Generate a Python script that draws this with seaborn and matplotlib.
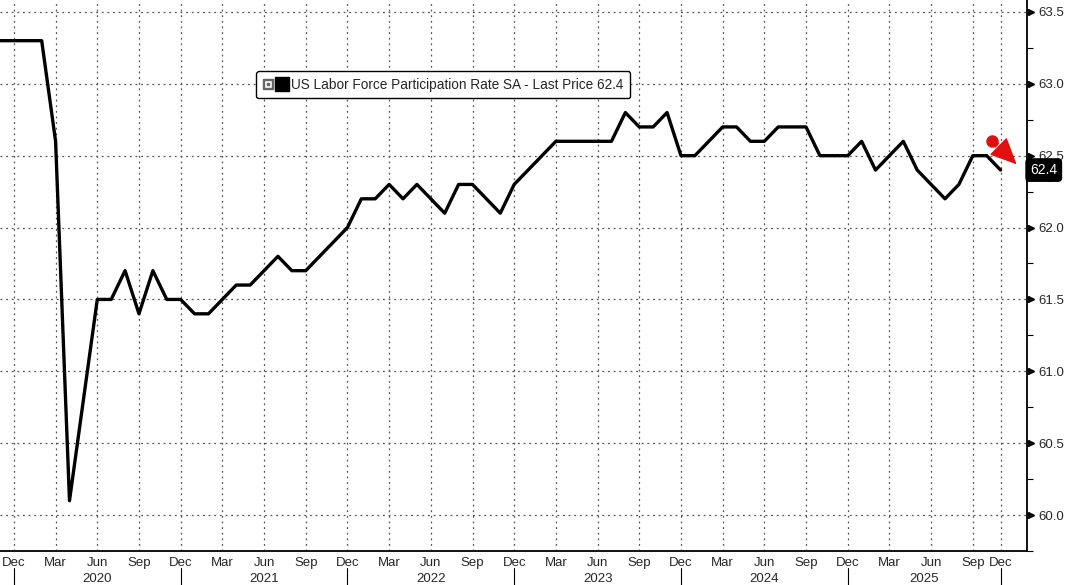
import numpy as np
import pandas as pd
import matplotlib
matplotlib.use('Agg')
import matplotlib.pyplot as plt
import matplotlib.transforms as mtransforms
import seaborn as sns
from matplotlib.lines import Line2D
from matplotlib.legend_handler import HandlerTuple

# monthly observations, Oct 2025 was never published (shutdown), so it is skipped
months = pd.period_range('2019-11', '2025-12', freq='M')
months = months[months != pd.Period('2025-10', 'M')]

rate_2019 = [63.3, 63.3]
rate_2020 = [63.3, 63.3, 62.6, 60.1, 60.8, 61.5, 61.5, 61.7, 61.4, 61.7, 61.5, 61.5]
rate_2021 = [61.4, 61.4, 61.5, 61.6, 61.6, 61.7, 61.8, 61.7, 61.7, 61.8, 61.9, 62.0]
rate_2022 = [62.2, 62.2, 62.3, 62.2, 62.3, 62.2, 62.1, 62.3, 62.3, 62.2, 62.1, 62.3]
rate_2023 = [62.4, 62.5, 62.6, 62.6, 62.6, 62.6, 62.6, 62.8, 62.7, 62.7, 62.8, 62.5]
rate_2024 = [62.5, 62.6, 62.7, 62.7, 62.6, 62.6, 62.7, 62.7, 62.7, 62.5, 62.5, 62.5]
rate_2025 = [62.6, 62.4, 62.5, 62.6, 62.4, 62.3, 62.2, 62.3, 62.5, 62.5, 62.4]
rate = rate_2019 + rate_2020 + rate_2021 + rate_2022 + rate_2023 + rate_2024 + rate_2025

last_price = rate[-1]
series_name = 'US Labor Force Participation Rate SA'
y_ticks = [60.0, 60.5, 61.0, 61.5, 62.0, 62.5, 63.0, 63.5]

df = pd.DataFrame({'obs': np.arange(len(months)), 'rate': rate})

sns.set_style('white')
plt.rcParams['font.family'] = ['Liberation Sans', 'DejaVu Sans']

fig = plt.figure(figsize=(10.65, 5.85), dpi=100)
ax = fig.add_axes([0, 34 / 585, 1027 / 1065, 551 / 585])

sns.lineplot(data=df, x='obs', y='rate', color='black', lw=2.4, ax=ax, legend=False, zorder=5)

ax.set_xlim(0, 73.9)
ax.set_ylim(59.787, 63.583)
ax.set_xlabel('')
ax.set_ylabel('')

# spines
for s in ['top', 'left']:
    ax.spines[s].set_visible(False)
for s in ['bottom', 'right']:
    ax.spines[s].set_color('black')
    ax.spines[s].set_linewidth(1.3)

# x axis: quarterly major ticks, monthly minor ticks
major_idx = [i for i, m in enumerate(months) if m.month in (3, 6, 9, 12)]
ax.set_xticks(major_idx)
ax.set_xticklabels([months[i].strftime('%b') for i in major_idx], fontsize=9.5)
ax.set_xticks(np.arange(len(months)), minor=True)
ax.tick_params(axis='x', which='major', length=3, width=1, pad=1, color='black')
ax.tick_params(axis='x', which='minor', length=3, width=0.8, color='black')

# year row under the months
dec_idx = [i for i, m in enumerate(months) if m.month == 12]
xtrans = ax.get_xaxis_transform()
for i in dec_idx:
    ax.plot([i, i], [-0.031, -0.065], color='black', lw=0.8, transform=xtrans, clip_on=False)
for a, b in zip(dec_idx[:-1], dec_idx[1:]):
    ax.text((a + b) / 2, -0.0505, str(months[b].year), transform=xtrans, ha='center', va='center',
            fontsize=9.5)

# y axis on the right
ax.yaxis.tick_right()
ax.set_yticks(y_ticks)
ax.set_yticklabels([f'{v:.1f}' for v in y_ticks], fontsize=9.5)
ax.set_yticks(np.arange(59.75, 63.6, 0.25), minor=True)
ax.tick_params(axis='y', which='major', length=0, pad=8)
ax.tick_params(axis='y', which='minor', length=4, width=0.8, color='black')
tri = mtransforms.offset_copy(ax.get_yaxis_transform(), fig=fig, x=3, units='points')
for v in y_ticks:
    ax.plot(1.0, v, marker='>', color='black', ms=5, transform=tri, clip_on=False)

# dotted grid
ax.grid(True, which='major', axis='both', color='#555555', linestyle=(0, (1.5, 3)), lw=0.9)

# last price tag (pointed on the left like the terminal's label)
ytrans = ax.get_yaxis_transform()
ax.plot(1.0115, last_price, marker='<', color='black', ms=16, transform=ytrans, clip_on=False, zorder=9)
ax.text(1.0295, last_price, f'{last_price:.1f}', transform=ytrans, color='white', fontsize=10,
        ha='right', va='center', clip_on=False, zorder=10,
        bbox=dict(boxstyle='round,pad=0.3,rounding_size=0.25', fc='black', ec='black'))

# red arrow annotation: dashed shaft, solid head, round bulb
red = '#e01010'
ax.plot([71.4, 72.1], [62.60, 62.54], color=red, lw=4, ls=(0, (1.2, 0.6)), zorder=8,
        solid_capstyle='butt')
ax.annotate('', xy=(73.15, 62.44), xytext=(72.0, 62.55),
            arrowprops=dict(arrowstyle='-|>,head_length=1.3,head_width=0.6', color=red, lw=1,
                            mutation_scale=13, shrinkA=0, shrinkB=0), zorder=8)
ax.plot(71.4, 62.60, marker='o', color=red, ms=8, zorder=8)

# legend
icon = Line2D([], [], marker=r'$\boxdot$', color='#666666', ls='', ms=7)
box = Line2D([], [], marker='s', color='black', ls='', ms=10)
leg = ax.legend([(icon, box)], [f'{series_name} - Last Price {last_price:.1f}'],
                handler_map={tuple: HandlerTuple(ndivide=None, pad=0.2)},
                loc='upper left', bbox_to_anchor=(249 / 1027, 1 - 64 / 551),
                frameon=True, fancybox=True, edgecolor='black', framealpha=1,
                borderpad=0.5, handlelength=1.8, handletextpad=0.3, fontsize=9.8)
leg.get_frame().set_linewidth(1)

fig.savefig('out.png', dpi=100)
